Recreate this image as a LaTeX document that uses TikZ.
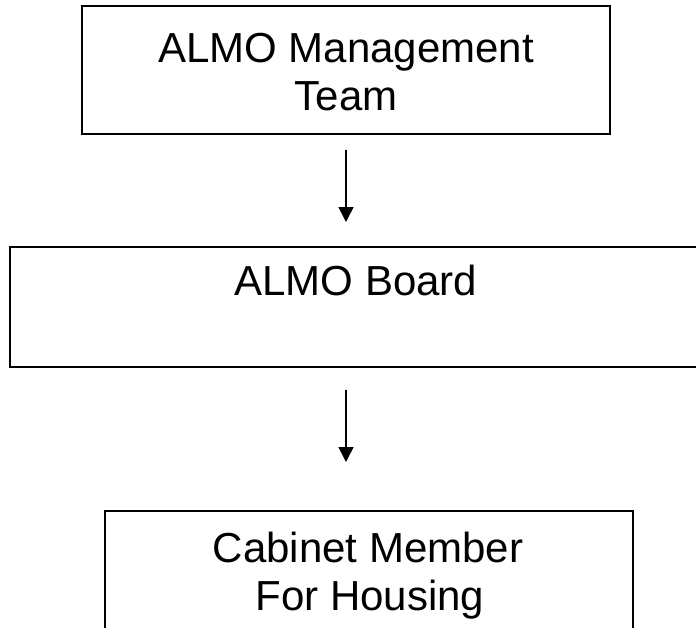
\documentclass[tikz,border=0pt]{standalone}
\usepackage{fontspec}
\setmainfont{Liberation Sans}
\usetikzlibrary{arrows.meta}
\begin{document}
\begin{tikzpicture}[x=1pt,y=-1pt,
  box/.style={draw=black,line width=1.6pt,fill=none},
  label/.style={anchor=base,inner sep=0pt,font=\fontsize{42}{48}\selectfont},
  flow/.style={line width=1.5pt,-{Triangle[length=15pt,width=15pt]}}]
\useasboundingbox (0,0) rectangle (696,627);
\clip (0,0) rectangle (696,627);
% the three boxes (the lower two run past the page edge)
\draw[box] (82,6) rectangle (610,134);
\draw[box,line width=2pt] (10,247) rectangle (710,367);
\draw[box] (105,511) rectangle (633,660);
\coordinate (b1) at (346,134);
\coordinate (b2t) at (346,247);
\coordinate (b2b) at (346,367);
\coordinate (b3) at (346,511);
% labels
\node[label] (t1a) at (346,62) {ALMO Management};
\node[label] (t1b) at (346,110) {Team};
\node[label] (t2) at (356,295) {ALMO Board};
\node[label] (t3a) at (368,562) {Cabinet Member};
\node[label] (t3b) at (370,610) {For Housing};
% connectors
\draw[flow,shorten <=16pt,shorten >=25pt] (b1) -- (b2t);
\draw[flow,shorten <=23pt,shorten >=49pt] (b2b) -- (b3);
\end{tikzpicture}
\end{document}
